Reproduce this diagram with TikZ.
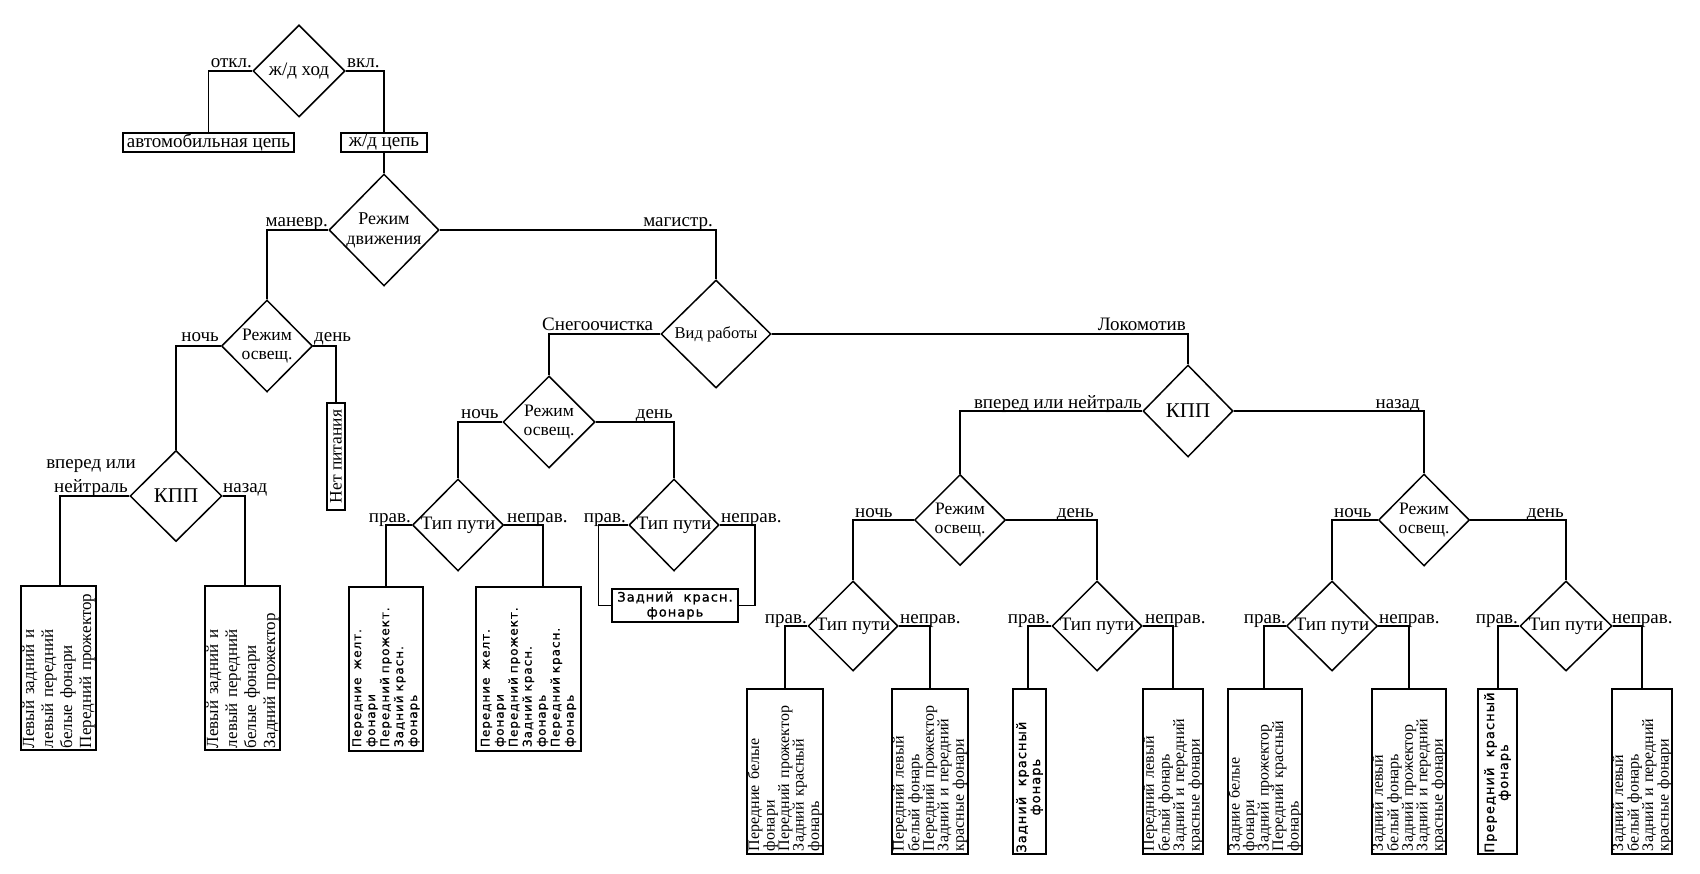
\documentclass[tikz,border=0pt]{standalone}
\usepackage{fontspec}
\setmainfont{Liberation Serif}
\newfontfamily\gostfont[LetterSpace=8,FakeBold=1]{DejaVu Sans}
\usetikzlibrary{shapes.geometric}
\newcommand\myfs[2]{\fontsize{#1pt}{#2pt}\selectfont}
\tikzset{
  ln/.style={line width=1.5pt},
  dia/.style n args={2}{draw, ln, diamond, inner sep=0pt, minimum width=#1, minimum height=#2},
  dtext/.style={align=center, inner sep=0pt},
  lab/.style={inner sep=0pt, font=\myfs{19}{20}},
  hbox/.style={draw, ln, inner sep=0pt},
  vbox/.style={draw, ln, rotate=90, align=left, inner xsep=3pt, inner ysep=0pt},
  vbody/.style={font=\myfs{16}{14.5}},
  lbody/.style={font=\myfs{17}{19}},
  gbody/.style={font=\gostfont\myfs{12}{14}},
  gtext/.style={rotate=90, align=center, inner sep=0pt, font=\gostfont\myfs{13}{14}},
}
\begin{document}
\begin{tikzpicture}[x=1pt,y=-1pt]
\useasboundingbox (0,0) rectangle (1700,874);

% ---------- diamonds ----------
\node[dia={92pt}{92pt}, label={[dtext,font=\myfs{19}{20}]center:ж/д ход}] (d0) at (299,71) {};
\node[dia={110pt}{112pt}, label={[dtext,font=\myfs{18}{20}]center:Режим\\движения}] (d1) at (384,230) {};
\node[dia={91pt}{92pt}, label={[dtext,font=\myfs{17.5}{19}]center:Режим\\освещ.}] (d2) at (267,346) {};
\node[dia={92pt}{91pt}, label={[dtext,font=\myfs{21}{22}]center:КПП}] (d3) at (176,496) {};
\node[dia={110pt}{108pt}, label={[dtext,font=\myfs{16.5}{18}]center:Вид работы}] (d4) at (716,334) {};
\node[dia={92pt}{92pt}, label={[dtext,font=\myfs{17.5}{19}]center:Режим\\освещ.}] (d5) at (549,422) {};
\node[dia={91pt}{92pt}, label={[dtext,font=\myfs{19}{20}]center:Тип пути}] (d6) at (458,525) {};
\node[dia={90pt}{92pt}, label={[dtext,font=\myfs{19}{20}]center:Тип пути}] (d7) at (674,525) {};
\node[dia={90pt}{92pt}, label={[dtext,font=\myfs{21}{22}]center:КПП}] (d8) at (1188,411) {};
\node[dia={91pt}{91pt}, label={[dtext,font=\myfs{17.5}{19}]center:Режим\\освещ.}] (d9) at (960,520) {};
\node[dia={90pt}{90pt}, label={[dtext,font=\myfs{19}{20}]center:Тип пути}] (d10) at (853,626) {};
\node[dia={90pt}{90pt}, label={[dtext,font=\myfs{19}{20}]center:Тип пути}] (d11) at (1097,626) {};
\node[dia={91pt}{92pt}, label={[dtext,font=\myfs{17.5}{19}]center:Режим\\освещ.}] (d12) at (1424,520) {};
\node[dia={91pt}{90pt}, label={[dtext,font=\myfs{19}{20}]center:Тип пути}] (d13) at (1332,626) {};
\node[dia={92pt}{90pt}, label={[dtext,font=\myfs{19}{20}]center:Тип пути}] (d14) at (1566,626) {};

% ---------- horizontal boxes ----------
\node[hbox, minimum width=171pt, minimum height=19pt, font=\myfs{19}{20}] (avto) at (208.5,142.5) {автомобильная цепь};
\node[hbox, minimum width=86pt, minimum height=19pt, font=\myfs{19}{20}] (zd) at (384,142.5) {ж/д цепь};
\node[hbox, minimum width=126pt, minimum height=33pt, align=center, font=\gostfont\myfs{13}{15}] (zk) at (675,605.5) {Задний\ \ красн.\\фонарь};

% ---------- vertical boxes ----------
\node[vbox, inner xsep=0pt, minimum width=107pt, minimum height=18pt, font=\myfs{17.5}{19}] (np) at (336,456.5) {Нет питания};
\node[vbox, lbody, minimum width=164pt, minimum height=75pt, text width=160pt, inner xsep=2pt] (L1) at (58.5,668) {Левый задний и\\левый передний\\белые фонари\\Передний прожектор};
\node[vbox, lbody, minimum width=164pt, minimum height=75pt, text width=160pt, inner xsep=2pt] (L2) at (242.5,668) {Левый задний и\\левый передний\\белые фонари\\Задний прожектор};
\node[vbox, gbody, minimum width=164pt, minimum height=74pt, text width=156pt] (S1) at (386,669) {Передние\ \ желт.\\фонари\\Передний прожект.\\Задний красн.\\фонарь};
\node[vbox, gbody, minimum width=164pt, minimum height=105pt, text width=156pt] (S2) at (528.5,669) {Передние\ \ желт.\\фонари\\Передний прожект.\\Задний красн.\\фонарь\\Передний красн.\\фонарь};
\node[vbox, vbody, minimum width=165pt, minimum height=76pt, text width=159pt] (A) at (785,771.5) {Передние белые\\фонари\\Передний прожектор\\Задний красный\\фонарь};
\node[vbox, vbody, minimum width=165pt, minimum height=76pt, text width=159pt] (B) at (930,771.5) {Передний левый\\белый фонарь\\Передний прожектор\\Задний и передний\\красные фонари};
\node[vbox, minimum width=165pt, minimum height=33pt] (C) at (1029.5,771.5) {};
\node[gtext, anchor=west] (Ct) at ([yshift=2pt]C.west) {Задний\ \ красный\\фонарь};
\node[vbox, vbody, minimum width=165pt, minimum height=60pt, text width=159pt] (D) at (1173,771.5) {Передний левый\\белый фонарь\\Задний и передний\\красные фонари};
\node[vbox, vbody, minimum width=165pt, minimum height=74pt, text width=159pt] (E) at (1265,771.5) {Задние белые\\фонари\\Задний прожектор\\Передний красный\\фонарь};
\node[vbox, vbody, minimum width=165pt, minimum height=74pt, text width=159pt] (F) at (1409,771.5) {Задний левый\\белый фонарь\\Задний прожектор\\Задний и передний\\красные фонари};
\node[vbox, minimum width=165pt, minimum height=39pt] (G) at (1497.5,771.5) {};
\node[gtext, anchor=west] (Gt) at ([yshift=2pt]G.west) {Прередний\ \ красный\\фонарь};
\node[vbox, vbody, minimum width=165pt, minimum height=60pt, text width=159pt] (H) at (1642,771.5) {Задний левый\\белый фонарь\\Задний и передний\\красные фонари};

% ---------- connectors ----------
\draw[ln] (d0.west) -| (avto.north);
\draw[ln] (d0.east) -| (zd.north);
\draw[ln] (zd.south) -- (d1.north);
\draw[ln] (d1.west) -| (d2.north);
\draw[ln] (d1.east) -| (d4.north);
\draw[ln] (d2.west) -| (d3.north);
\draw[ln] (d2.east) -| (np.east);
\draw[ln] (d3.west) -| ([xshift=1.5pt]L1.east);
\draw[ln] (d3.east) -| ([xshift=2.5pt]L2.east);
\draw[ln] (d4.west) -| (d5.north);
\draw[ln] (d4.east) -| (d8.north);
\draw[ln] (d5.west) -| (d6.north);
\draw[ln] (d5.east) -| (d7.north);
\draw[ln] (d6.west) -| (S1.east);
\draw[ln] (d6.east) -| ([xshift=14.5pt]S2.east);
\draw[ln] (d7.west) -| ([xshift=-13pt]zk.west) -- (zk.west);
\draw[ln] (d7.east) -| ([xshift=16pt]zk.east) -- (zk.east);
\draw[ln] (d8.west) -| (d9.north);
\draw[ln] (d8.east) -| (d12.north);
\draw[ln] (d9.west) -| (d10.north);
\draw[ln] (d9.east) -| (d11.north);
\draw[ln] (d10.west) -| (A.east);
\draw[ln] (d10.east) -| (B.east);
\draw[ln] (d11.west) -| ([xshift=-1.5pt]C.east);
\draw[ln] (d11.east) -| (D.east);
\draw[ln] (d12.west) -| (d13.north);
\draw[ln] (d12.east) -| (d14.north);
\draw[ln] (d13.west) -| ([xshift=-1pt]E.east);
\draw[ln] (d13.east) -| (F.east);
\draw[ln] (d14.west) -| ([xshift=0.5pt]G.east);
\draw[ln] (d14.east) -| (H.east);

% ---------- branch labels ----------
\node[lab, anchor=base east] (t1) at (252,68) {откл.};
\node[lab, anchor=base west] (t2) at (347,68) {вкл.};
\node[lab, anchor=base east] (t3) at (328,227) {маневр.};
\node[lab, anchor=base east] (t4) at (713,227) {магистр.};
\node[lab, anchor=base east] (t5) at (219,342) {ночь};
\node[lab, anchor=base west] (t6) at (314,342) {день};
\node[lab, align=center, anchor=south, font=\myfs{19}{24}] (t7) at (91,497) {вперед или\\нейтраль};
\node[lab, anchor=base west] (t8) at (223,492) {назад};
\node[lab, anchor=base west] (t9) at (542,331) {Снегоочистка};
\node[lab, anchor=base east] (t10) at (1186,331) {Локомотив};
\node[lab, anchor=base west] (t11) at (461,418) {ночь};
\node[lab, anchor=base east] (t12) at (673,418) {день};
\node[lab, anchor=base east] (t13) at (411,522) {прав.};
\node[lab, anchor=base west] (t14) at (507,522) {неправ.};
\node[lab, anchor=base east] (t15) at (626,522) {прав.};
\node[lab, anchor=base west] (t16) at (721,522) {неправ.};
\node[lab, anchor=base east] (t17) at (1142,408) {вперед или нейтраль};
\node[lab, anchor=base east] (t18) at (1420,408) {назад};
\node[lab, anchor=base west] (t19) at (855,517) {ночь};
\node[lab, anchor=base east] (t20) at (1094,517) {день};
\node[lab, anchor=base east] (t21) at (807,623) {прав.};
\node[lab, anchor=base west] (t22) at (900,623) {неправ.};
\node[lab, anchor=base east] (t23) at (1050,623) {прав.};
\node[lab, anchor=base west] (t24) at (1145,623) {неправ.};
\node[lab, anchor=base west] (t25) at (1334,517) {ночь};
\node[lab, anchor=base east] (t26) at (1564,517) {день};
\node[lab, anchor=base east] (t27) at (1286,623) {прав.};
\node[lab, anchor=base west] (t28) at (1379,623) {неправ.};
\node[lab, anchor=base east] (t29) at (1518,623) {прав.};
\node[lab, anchor=base west] (t30) at (1612,623) {неправ.};
\end{tikzpicture}
\end{document}
